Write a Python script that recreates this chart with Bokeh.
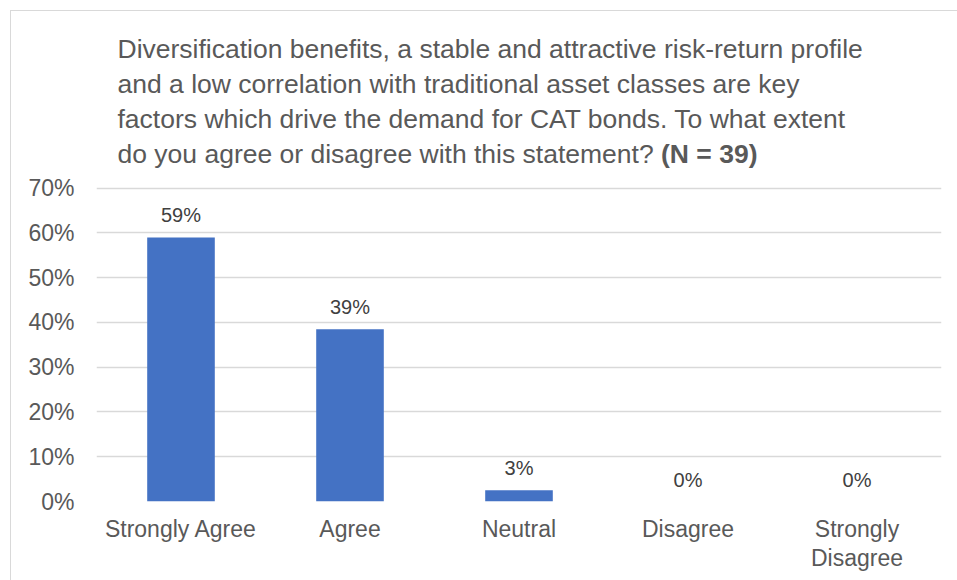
from bokeh.plotting import figure
from bokeh.models import (ColumnDataSource, FactorRange, Range1d, FixedTicker,
                          InlineStyleSheet)
from bokeh.core.properties import value
from bokeh.embed import file_html
from bokeh.resources import INLINE

# ---- data ----
categories = ["Strongly Agree", "Agree", "Neutral", "Disagree", "Strongly\nDisagree"]
shares = [0.59, 0.385, 0.025, 0.0, 0.0]
share_labels = ["59%", "39%", "3%", "0%", "0%"]
y_ticks = [0.0, 0.1, 0.2, 0.3, 0.4, 0.5, 0.6, 0.7]
y_tick_labels = ["0%", "10%", "20%", "30%", "40%", "50%", "60%", "70%"]
title_lines = [
    "Diversification benefits, a stable and attractive risk-return profile",
    "and a low correlation with traditional asset classes are key",
    "factors which drive the demand for CAT bonds. To what extent",
    "do you agree or disagree with this statement?",
]
title_bold = "(N = 39)"

FONT = "Liberation Sans"
W, H = 957, 580
Y_TOP = 1.1193
TITLE_SIZE = 26.5

border_css = InlineStyleSheet(css="""
:host::after {
  content: "";
  position: absolute;
  left: 10px; top: 10px; right: 0; bottom: 0;
  border-top: 1.5px solid #d9d9d9;
  border-left: 1.5px solid #d9d9d9;
  pointer-events: none;
}
""")

p = figure(width=W, height=H, x_range=FactorRange(*categories),
           y_range=Range1d(0, Y_TOP), output_backend="svg",
           toolbar_location=None, tools="", stylesheets=[border_css])
p.min_border_left = 96
p.min_border_right = 16
p.min_border_top = 0
p.min_border_bottom = 79
p.outline_line_color = None
p.background_fill_color = "white"
p.border_fill_color = "white"

src = ColumnDataSource(dict(cat=categories, share=shares, lab=share_labels))
p.vbar(x="cat", top="share", width=0.4, source=src, fill_color="#4472C4",
       line_color=None)

p.text(x="cat", y="share", text="lab", source=src, text_align="center",
       text_baseline="middle", y_offset=-22, text_font=value(FONT),
       text_font_size="20px", text_color="#404040")

# title block
title_y_offsets = [48, 83, 118, 153]
p.text(x=[0] * 4, y=[Y_TOP] * 4, text=title_lines, x_offset=21,
       y_offset=title_y_offsets, text_align="left", text_baseline="middle",
       text_font=value(FONT), text_font_size=f"{TITLE_SIZE}px",
       text_color="#595959")
p.text(x=[0], y=[Y_TOP], text=[title_bold], x_offset=21 + 20.51 * TITLE_SIZE,
       y_offset=title_y_offsets[3], text_align="left", text_baseline="middle",
       text_font=value(FONT), text_font_size=f"{TITLE_SIZE}px",
       text_font_style="bold", text_color="#595959")

# axes
p.xgrid.grid_line_color = None
p.ygrid.grid_line_color = "#d9d9d9"
p.ygrid.grid_line_width = 1.4
p.yaxis.ticker = FixedTicker(ticks=y_ticks)
p.yaxis.major_label_overrides = {t: l for t, l in zip(y_ticks, y_tick_labels)}
for ax in (p.xaxis, p.yaxis):
    ax.axis_line_color = None
    ax.major_tick_line_color = None
    ax.minor_tick_line_color = None
    ax.major_tick_out = 0
    ax.major_tick_in = 0
    ax.major_label_text_font = FONT
    ax.major_label_text_font_size = "23px"
    ax.major_label_text_color = "#595959"
p.yaxis.major_label_standoff = 22
p.xaxis.major_label_standoff = 14
p.xaxis.major_label_text_line_height = 1.15

open("out.html", "w").write(file_html(p, INLINE))
